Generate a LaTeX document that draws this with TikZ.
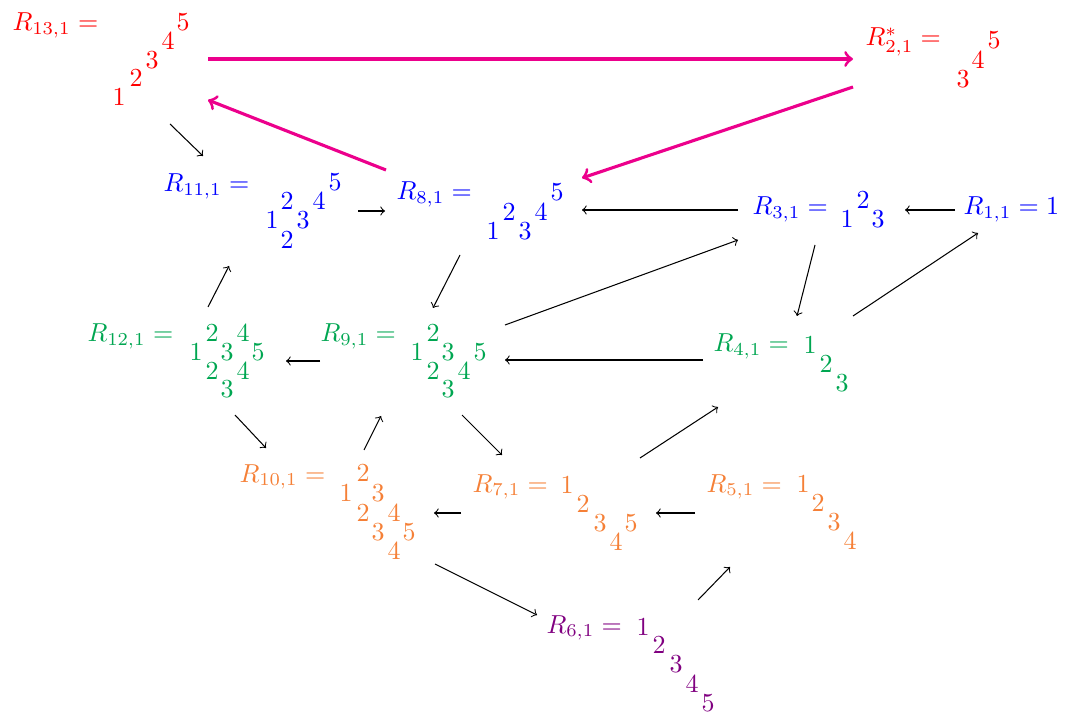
\documentclass[tikz,border=0pt]{standalone}
\usepackage{tikz}
\definecolor{cred}{RGB}{255,0,0}
\definecolor{cblue}{RGB}{0,0,255}
\definecolor{cgreen}{RGB}{0,166,81}
\definecolor{corange}{RGB}{245,128,55}
\definecolor{cpurple}{RGB}{128,0,128}
\definecolor{cmag}{RGB}{236,0,140}
\begin{document}
\begin{tikzpicture}[x=0.3846pt,y=-0.3846pt,
  lab/.style={anchor=base west,inner sep=0pt},
  dg/.style={inner sep=0pt},
  ar/.style={->,black,line width=0.4pt},
  big/.style={->,cmag,line width=1.2pt}]
\useasboundingbox (0,0) rectangle (1070,716);
% R13
\begin{scope}[cred]
\node[lab] (L13) at (12,31) {$R_{13,1} =$};
\node[dg] (r13a) at (119,97) {1};
\node[dg] (r13b) at (136,78) {2};
\node[dg] (r13c) at (152,60) {3};
\node[dg] (r13d) at (168,41) {4};
\node[dg] (r13e) at (183,22) {5};
\node[lab] (L2) at (865,46) {$R^*_{2,1} =$};
\node[dg] (r2a) at (963,79) {3};
\node[dg] (r2b) at (978,60) {4};
\node[dg] (r2c) at (994,40) {5};
\end{scope}
\begin{scope}[cblue]
\node[lab] (L11) at (163,192) {$R_{11,1} =$};
\node[dg] (r11a) at (272,220) {1};
\node[dg] (r11b) at (287,201) {2};
\node[dg] (r11c) at (303,220) {3};
\node[dg] (r11d) at (319,201) {4};
\node[dg] (r11e) at (335,182) {5};
\node[dg] (r11f) at (287,240) {2};
\node[lab] (L8) at (396,200) {$R_{8,1} =$};
\node[dg] (r8a) at (493,231) {1};
\node[dg] (r8b) at (509,212) {2};
\node[dg] (r8c) at (525,231) {3};
\node[dg] (r8d) at (541,212) {4};
\node[dg] (r8e) at (557,192) {5};
\node[lab] (L3) at (752,215) {$R_{3,1} =$};
\node[dg] (r3a) at (847,219) {1};
\node[dg] (r3b) at (863,200) {2};
\node[dg] (r3c) at (878,219) {3};
\node[lab] (L1) at (963,215) {$R_{1,1} = 1$};
\end{scope}
\begin{scope}[cgreen]
\node[lab] (L12) at (87,342) {$R_{12,1} =$};
\node[dg] (r12a) at (196,352) {1};
\node[dg] (r12b) at (212,333) {2};
\node[dg] (r12c) at (227,352) {3};
\node[dg] (r12d) at (243,333) {4};
\node[dg] (r12e) at (258,352) {5};
\node[dg] (r12f) at (212,371) {2};
\node[dg] (r12g) at (243,371) {4};
\node[dg] (r12h) at (227,389) {3};
\node[lab] (L9) at (320,342) {$R_{9,1} =$};
\node[dg] (r9a) at (417,352) {1};
\node[dg] (r9b) at (433,333) {2};
\node[dg] (r9c) at (448,352) {3};
\node[dg] (r9d) at (480,352) {5};
\node[dg] (r9e) at (433,371) {2};
\node[dg] (r9f) at (464,371) {4};
\node[dg] (r9g) at (448,389) {3};
\node[lab] (L4) at (713,352) {$R_{4,1} =$};
\node[dg] (r4a) at (810,345) {1};
\node[dg] (r4b) at (826,364) {2};
\node[dg] (r4c) at (842,383) {3};
\end{scope}
\begin{scope}[corange]
\node[lab] (L10) at (239,482) {$R_{10,1} =$};
\node[dg] (r10a) at (346,493) {1};
\node[dg] (r10b) at (363,473) {2};
\node[dg] (r10c) at (378,493) {3};
\node[dg] (r10d) at (363,513) {2};
\node[dg] (r10e) at (394,513) {4};
\node[dg] (r10f) at (378,532) {3};
\node[dg] (r10g) at (409,532) {5};
\node[dg] (r10h) at (394,551) {4};
\node[lab] (L7) at (472,492) {$R_{7,1} =$};
\node[dg] (r7a) at (567,485) {1};
\node[dg] (r7b) at (583,504) {2};
\node[dg] (r7c) at (600,523) {3};
\node[dg] (r7d) at (616,542) {4};
\node[dg] (r7e) at (631,523) {5};
\node[lab] (L5) at (706,492) {$R_{5,1} =$};
\node[dg] (r5a) at (803,484) {1};
\node[dg] (r5b) at (818,503) {2};
\node[dg] (r5c) at (834,522) {3};
\node[dg] (r5d) at (850,541) {4};
\end{scope}
\begin{scope}[cpurple]
\node[lab] (L6) at (546,633) {$R_{6,1} =$};
\node[dg] (r6a) at (643,627) {1};
\node[dg] (r6b) at (659,645) {2};
\node[dg] (r6c) at (676,664) {3};
\node[dg] (r6d) at (692,684) {4};
\node[dg] (r6e) at (708,703) {5};
\end{scope}
% arrow end points
\coordinate (a1) at (170,124); \coordinate (b1) at (203,156);
\coordinate (a2) at (358,211); \coordinate (b2) at (385,211);
\coordinate (a3) at (386,170); \coordinate (b3) at (208,100);
\coordinate (a4) at (208,59);  \coordinate (b4) at (853,59);
\coordinate (a5) at (853,87);  \coordinate (b5) at (582,178);
\coordinate (a6) at (738,210); \coordinate (b6) at (582,210);
\coordinate (a7) at (955,210); \coordinate (b7) at (905,210);
\coordinate (a8) at (815,245); \coordinate (b8) at (797,316);
\coordinate (a9) at (853,316); \coordinate (b9) at (978,233);
\coordinate (a10) at (460,255); \coordinate (b10) at (433,308);
\coordinate (a11) at (505,325); \coordinate (b11) at (738,240);
\coordinate (a12) at (703,360); \coordinate (b12) at (505,360);
\coordinate (a13) at (320,361); \coordinate (b13) at (286,361);
\coordinate (a14) at (208,307); \coordinate (b14) at (229,266);
\coordinate (a15) at (235,415); \coordinate (b15) at (266,448);
\coordinate (a16) at (364,450); \coordinate (b16) at (381,416);
\coordinate (a17) at (462,415); \coordinate (b17) at (502,455);
\coordinate (a18) at (640,458); \coordinate (b18) at (718,407);
\coordinate (a19) at (461,513); \coordinate (b19) at (434,513);
\coordinate (a20) at (695,513); \coordinate (b20) at (656,513);
\coordinate (a21) at (435,564); \coordinate (b21) at (537,615);
\coordinate (a22) at (698,600); \coordinate (b22) at (730,567);
\foreach \i in {1,2,6,7,8,9,10,11,12,13,14,15,16,17,18,19,20,21,22}
  \draw[ar] (a\i) -- (b\i);
\foreach \i in {3,4,5}
  \draw[big] (a\i) -- (b\i);
\end{tikzpicture}
\end{document}
